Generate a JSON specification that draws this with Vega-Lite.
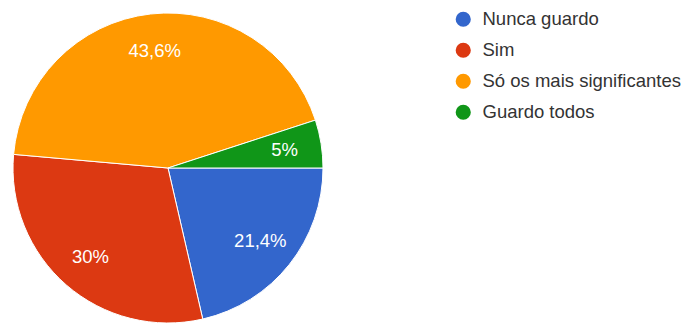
{
  "$schema": "https://vega.github.io/schema/vega-lite/v6.json",
  "width": 336,
  "height": 336,
  "autosize": {"type": "none"},
  "padding": {"left": 0, "top": 0, "right": 355, "bottom": 0},
  "background": "white",
  "data": {
    "values": [
      {"resposta": "Nunca guardo", "pct": 21.4, "rotulo": "21,4%", "ordem": 1},
      {"resposta": "Sim", "pct": 30.0, "rotulo": "30%", "ordem": 2},
      {"resposta": "Só os mais significantes", "pct": 43.6, "rotulo": "43,6%", "ordem": 3},
      {"resposta": "Guardo todos", "pct": 5.0, "rotulo": "5%", "ordem": 4}
    ]
  },
  "encoding": {
    "theta": {"field": "pct", "type": "quantitative", "stack": true, "scale": {"range": [1.5708, 7.854]}},
    "order": {"field": "ordem", "type": "quantitative"},
    "color": {
      "field": "resposta",
      "type": "nominal",
      "sort": ["Nunca guardo", "Sim", "Só os mais significantes", "Guardo todos"],
      "scale": {
        "domain": ["Nunca guardo", "Sim", "Só os mais significantes", "Guardo todos"],
        "range": ["#3366cc", "#dc3912", "#ff9900", "#109618"]
      },
      "legend": {
        "title": null,
        "orient": "none",
        "legendX": 454,
        "legendY": 10,
        "symbolType": "circle",
        "symbolSize": 230,
        "symbolStrokeWidth": 0,
        "labelFont": "Liberation Sans",
        "labelFontSize": 18.5,
        "labelColor": "#333333",
        "labelOffset": 10,
        "rowPadding": 12,
        "labelLimit": 400
      }
    }
  },
  "layer": [
    {
      "mark": {"type": "arc", "outerRadius": 155, "stroke": "white", "strokeWidth": 1}
    },
    {
      "mark": {"type": "text", "radius": 118, "font": "Liberation Sans", "fontSize": 18.5, "fill": "white"},
      "encoding": {
        "text": {"field": "rotulo"},
        "color": {"value": "white"}
      }
    }
  ],
  "config": {"view": {"stroke": null}}
}
